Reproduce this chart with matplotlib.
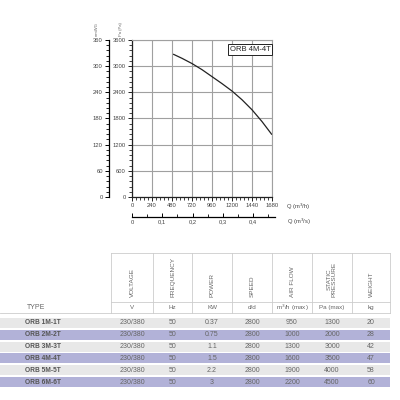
import matplotlib.pyplot as plt
from matplotlib.ticker import MultipleLocator, FixedLocator

plt.rcParams['font.family'] = ['Liberation Sans', 'DejaVu Sans']

# curva ORB 4M-4T
q_m3h = [500, 600, 720, 840, 960, 1080, 1200, 1320, 1440, 1560, 1675]
p_pa = [3270, 3180, 3060, 2920, 2760, 2600, 2430, 2230, 2000, 1730, 1440]

q_ticks = [0, 240, 480, 720, 960, 1200, 1440, 1680]
p_ticks = [0, 600, 1200, 1800, 2400, 3000, 3600]
mm_ticks = [0, 60, 120, 180, 240, 300, 360]
qs_ticks = [0, 0.1, 0.2, 0.3, 0.4]
qs_labels = ['0', '0,1', '0,2', '0,3', '0,4']

# tabla
headers = ['VOLTAGE', 'FREQUENCY', 'POWER', 'SPEED', 'AIR FLOW', 'STATIC\nPRESSURE', 'WEIGHT']
units = ['V', 'Hz', 'KW', 'd/d', 'm$^3$/h (max)', 'Pa (max)', 'kg']
types = ['ORB 1M-1T', 'ORB 2M-2T', 'ORB 3M-3T', 'ORB 4M-4T', 'ORB 5M-5T', 'ORB 6M-6T']
voltage = ['230/380'] * 6
frequency = ['50'] * 6
power = ['0.37', '0.75', '1.1', '1.5', '2.2', '3']
speed = ['2800'] * 6
airflow = ['950', '1000', '1300', '1600', '1900', '2200']
pressure = ['1300', '2000', '3000', '3500', '4000', '4500']
weight = ['20', '28', '42', '47', '58', '60']

W = H = 400.0
fs = 4.2
fs_tab = 5.0
grey = '#a0a0a0'


def px(x0, y0, w, h):
    return [x0 / W, 1 - (y0 + h) / H, w / W, h / H]


fig = plt.figure(figsize=(4, 4), dpi=100)

# --- grafico principal ---
ax = fig.add_axes(px(132, 40, 140, 157))
ax.plot(q_m3h, p_pa, color='#222222', lw=0.9)
ax.set_xlim(0, 1680)
ax.set_ylim(0, 3600)
ax.xaxis.set_major_locator(FixedLocator(q_ticks))
ax.yaxis.set_major_locator(FixedLocator(p_ticks))
ax.xaxis.set_minor_locator(MultipleLocator(48))
ax.yaxis.set_minor_locator(MultipleLocator(120))
ax.grid(True, which='major', color=grey, lw=0.8)
for s in ['top', 'right']:
    ax.spines[s].set_color(grey)
    ax.spines[s].set_linewidth(0.8)
for s in ['left', 'bottom']:
    ax.spines[s].set_color('#222222')
    ax.spines[s].set_linewidth(0.9)
ax.tick_params(which='major', length=3, width=0.7, labelsize=fs, pad=1.5, colors='#222222', labelcolor='#444444')
ax.tick_params(which='minor', length=2, width=0.6, colors='#222222')
ax.text(1660, 3460, 'ORB 4M-4T', fontsize=5.5, ha='right', va='top', color='#222222',
        bbox=dict(boxstyle='square,pad=0.25', fc='white', ec='#222222', lw=0.7))
ax.text(1.1, -0.03, 'Q (m$^3$/h)', transform=ax.transAxes, fontsize=fs, color='#444444', va='top', ha='left')

# eje mmWG
ax_mm = fig.add_axes(px(109, 40, 1, 157))
ax_mm.set_ylim(0, 360)
ax_mm.yaxis.set_major_locator(FixedLocator(mm_ticks))
ax_mm.yaxis.set_minor_locator(MultipleLocator(12))
ax_mm.set_xticks([])
for s in ['top', 'right', 'bottom']:
    ax_mm.spines[s].set_visible(False)
ax_mm.spines['left'].set_linewidth(0.9)
ax_mm.tick_params(which='major', length=3, width=0.7, labelsize=fs, pad=1.5, labelcolor='#444444')
ax_mm.tick_params(which='minor', length=2, width=0.6)
ax_mm.set_facecolor('none')

# eje Q m3/s
ax_q = fig.add_axes(px(132, 216, 143, 1))
ax_q.set_xlim(0, 143 / 302.5)
ax_q.xaxis.set_major_locator(FixedLocator(qs_ticks))
ax_q.set_xticklabels(qs_labels)
ax_q.xaxis.set_minor_locator(MultipleLocator(0.05))
ax_q.set_yticks([])
for s in ['top', 'right', 'left']:
    ax_q.spines[s].set_visible(False)
ax_q.spines['bottom'].set_linewidth(0.9)
ax_q.tick_params(which='major', direction='in', length=3, width=0.7, labelsize=fs, pad=2, labelcolor='#444444')
ax_q.tick_params(which='minor', direction='in', length=2, width=0.6)
ax_q.set_facecolor('none')
fig.text(287 / W, 1 - 222 / H, 'Q (m$^3$/s)', fontsize=fs, color='#444444', ha='left', va='center')

# --- tabla ---
tb = fig.add_axes([0, 0, 1, 1])
tb.set_xlim(0, W)
tb.set_ylim(H, 0)
tb.axis('off')
tb.patch.set_visible(False)

col_edges = [111, 153, 192, 232, 272, 312, 352, 390]
col_centers = [(a + b) / 2 for a, b in zip(col_edges[:-1], col_edges[1:])]
line_c = '#cccccc'
for x in col_edges:
    tb.plot([x, x], [253, 313], color=line_c, lw=0.6)
tb.plot([111, 390], [253, 253], color=line_c, lw=0.6)
tb.plot([111, 390], [302, 302], color=line_c, lw=0.6)
tb.plot([0, 390], [313, 313], color=line_c, lw=0.6)

txt_c = '#666666'
for xc, h in zip(col_centers, headers):
    tb.text(xc, 297, h, rotation=90, ha='center', va='bottom', fontsize=4.6, color=txt_c,
            linespacing=0.95, multialignment='center')
tb.text(27, 307.5, 'TYPE', fontsize=fs_tab, color=txt_c, ha='left', va='center')
for xc, u in zip(col_centers, units):
    tb.text(xc, 307.5, u, fontsize=4.5, color=txt_c, ha='center', va='center')

row_y = [323 + 11.8 * i for i in range(len(types))]
row_colors = ['#e8e8e8', '#b2b2d8']
tb.barh(row_y, [390] * len(types), left=0, height=10,
        color=[row_colors[i % 2] for i in range(len(types))])
cols = [voltage, frequency, power, speed, airflow, pressure, weight]
for i, y in enumerate(row_y):
    tb.text(25, y, types[i], fontsize=4.8, color='#555555', weight='bold', ha='left', va='center')
    for xc, col in zip(col_centers, cols):
        tb.text(xc, y, col[i], fontsize=fs_tab, color='#666666', ha='center', va='center')

fig.text(97 / W, 1 - 36 / H, 'mmWG', rotation=90, fontsize=3, color='#666666', ha='center', va='bottom')
fig.text(121 / W, 1 - 36 / H, 'Pa (Pa)', rotation=90, fontsize=3, color='#666666', ha='center', va='bottom')

fig.savefig('out.png', dpi=100, facecolor='white')
